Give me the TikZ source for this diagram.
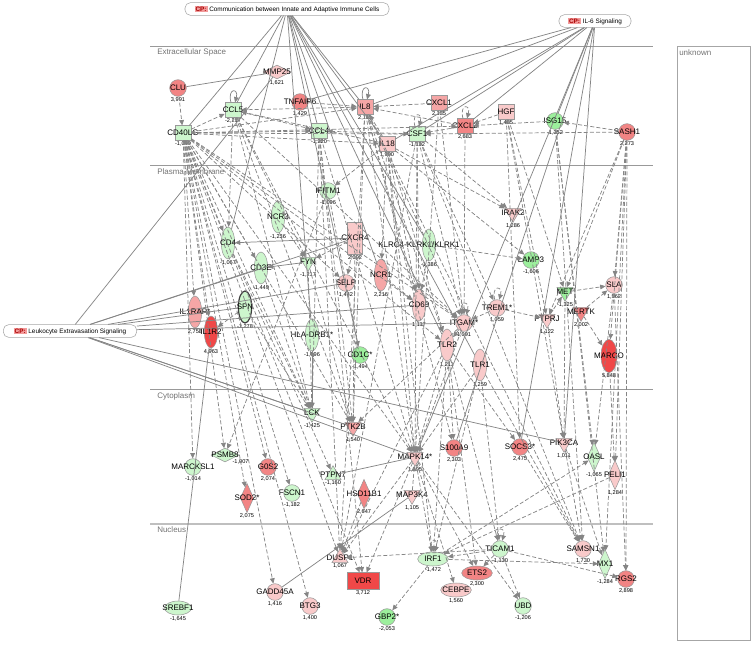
\documentclass[tikz,border=0pt]{standalone}
\usepackage{fontspec}
\setmainfont{Liberation Sans}
\usetikzlibrary{shapes.geometric,arrows.meta}
\definecolor{ipadeep}{HTML}{F04848}
\definecolor{ipared}{HTML}{F28484}
\definecolor{ipasalmon}{HTML}{F5A6A6}
\definecolor{ipapink}{HTML}{F9CACA}
\definecolor{ipagreen}{HTML}{9CEF9C}
\definecolor{ipamint}{HTML}{CDF6CD}
\definecolor{edgegray}{HTML}{858585}
\definecolor{cpbg}{HTML}{F29A9A}
\definecolor{cpred}{HTML}{A80000}
\newcommand\genefont{\fontsize{6}{6}\selectfont}
\newcommand\valfont{\fontsize{4.2}{4.2}\selectfont}
\newcommand\compfont{\fontsize{6}{6}\selectfont}
\newcommand\cpfont{\fontsize{4.8}{4.8}\selectfont}
\newcommand\cptag{{\setlength{\fboxsep}{0.7pt}\colorbox{cpbg}{\textcolor{cpred}{\bfseries CP:}}}}

\begin{document}
\begin{tikzpicture}[x=0.75pt,y=-0.75pt,
  gene/.style={draw=black!40,line width=0.4pt,inner sep=0pt,label distance=0.7pt},
  circ/.style={gene,circle,minimum size=12.5pt},
  sq/.style={gene,rectangle,minimum width=12pt,minimum height=11pt},
  dia/.style={gene,diamond,minimum width=21pt,minimum height=10.5pt},
  tdia/.style={gene,diamond,minimum width=10pt,minimum height=22pt},
  vell/.style={gene,ellipse,minimum width=10pt,minimum height=24pt},
  hell/.style={gene,ellipse,minimum width=23pt,minimum height=10.5pt},
  kin/.style={gene,regular polygon,regular polygon sides=3,shape border rotate=180,minimum size=14pt},
  phos/.style={gene,regular polygon,regular polygon sides=3,minimum size=14pt},
  tbox/.style={gene,rectangle,minimum width=11pt,minimum height=24pt},
  wbox/.style={gene,rectangle,minimum width=24pt,minimum height=12.5pt},
  glab/.style={font=\genefont,inner sep=0pt},
  vlab/.style={font=\valfont,inner sep=0.5pt},
  g/.style={label={[glab]center:#1}},
  v/.style={label={[vlab]below:#1}},
  cp/.style={draw=black!35,fill=white,rounded corners=4pt,font=\cpfont,inner sep=1pt,minimum height=9.5pt},
  comp/.style={draw=black!40,line width=0.6pt},
  complab/.style={font=\compfont,text=black!55,anchor=west,inner sep=0pt},
  cpl/.style={draw=edgegray,line width=0.55pt},
  dir/.style={cpl,-{Triangle[length=4pt,width=3.6pt]}},
  dep/.style={dir,dash pattern=on 3pt off 1.6pt}]
\useasboundingbox (0,0) rectangle (755,647);

% compartments
\draw[comp] (150,46) -- (653,46);
\draw[comp] (150,165) -- (653,165);
\draw[comp] (150,389) -- (653,389);
\draw[comp,draw=black!25,line width=1.2pt] (150,524) -- (653,524);
\node[complab] (ecs) at (157,52) {Extracellular Space};
\node[complab] (pm) at (157,172) {Plasma Membrane};
\node[complab] (cyto) at (157,396) {Cytoplasm};
\node[complab] (nuc) at (157,530) {Nucleus};
\draw[draw=black!35,line width=0.6pt] (677,46) rectangle (750,640);
\node[complab,anchor=north west] (unk) at (679,49) {unknown};

% canonical pathways
\node[cp,minimum width=153pt] (cpComm) at (287,9) {\cptag\ Communication between Innate and Adaptive Immune Cells};
\node[cp,minimum width=54pt] (cpIL6) at (595,21) {\cptag\ IL-6 Signaling};
\node[cp,minimum width=100pt] (cpLeuk) at (70,331) {\cptag\ Leukocyte Extravasation Signaling};

% extracellular space
\node[circ,fill=ipared,g=CLU,v={3,991}] (CLU) at (178,88) {};
\node[dia,fill=ipapink,g=MMP25,v={1,621}] (MMP25) at (277,72) {};
\node[circ,fill=ipared,g=TNFAIP6,v={1,429}] (TNFAIP6) at (300,102) {};
\node[sq,fill=ipasalmon,g=IL8,v={2,115}] (IL8) at (365,107) {};
\node[sq,fill=ipamint,g=CCL5,v={-2,217}] (CCL5) at (233,110) {};
\node[sq,fill=ipamint,g=CCL4,v={-1,220}] (CCL4) at (319,131) {};
\node[sq,fill=ipamint,g=CD40LG,v={-1,049}] (CD40LG) at (183,133) {};
\node[sq,fill=ipapink,g=IL18,v={1,990}] (IL18) at (387,144) {};
\node[sq,fill=ipasalmon,g=CXCL1,v={2,135}] (CXCL1) at (439,103) {};
\node[sq,fill=ipapink,g=HGF,v={1,485}] (HGF) at (506,112) {};
\node[sq,fill=ipamint,g=CSF1,v={-1,132}] (CSF1) at (417,134) {};
\node[sq,fill=ipared,g=CXCL2,v={2,683}] (CXCL2) at (465,126) {};
\node[circ,fill=ipagreen,g=ISG15,v={-1,352}] (ISG15) at (555,121) {};
\node[circ,fill=ipared,g=SASH1,v={2,273}] (SASH1) at (627,132) {};

% plasma membrane
\node[circ,fill=ipamint,g=IFITM1,v={-1,096}] (IFITM1) at (328,191) {};
\node[vell,fill=ipamint,g=NCR3,v={-1,236}] (NCR3) at (278,217) {};
\node[vell,fill=ipamint,g=CD4,v={-1,067}] (CD4) at (228,243) {};
\node[tbox,fill=ipapink,g=CXCR4,v={2,092}] (CXCR4) at (355,238) {};
\node[vell,fill=ipamint,label={[glab,xshift=-7.5pt]center:KLRC4-KLRK1/KLRK1},v={-1,386}] (KLRK1) at (429,245) {};
\node[kin,fill=ipapink,g=IRAK2,v={1,286}] (IRAK2) at (513,213) {};
\node[circ,fill=ipagreen,g=LAMP3,v={-1,606}] (LAMP3) at (531,260) {};
\node[kin,fill=ipamint,g=FYN,v={-1,217}] (FYN) at (308,262) {};
\node[vell,fill=ipamint,g=CD3E,v={-1,449}] (CD3E) at (261,268) {};
\node[vell,fill=ipasalmon,g=NCR1,v={2,216}] (NCR1) at (381,275) {};
\node[circ,fill=ipapink,g=SELP,v={1,442}] (SELP) at (346,283) {};
\node[vell,fill=ipapink,g=CD69,v={1,117}] (CD69) at (419,305) {};
\node[circ,fill=ipapink,g={TREM1*},v={1,059}] (TREM1) at (497,308) {};
\node[kin,fill=ipagreen,g=MET,v={-1,325}] (MET) at (565,292) {};
\node[circ,fill=ipapink,g=SLA,v={1,562}] (SLA) at (614,285) {};
\node[kin,fill=ipared,g=MERTK,v={2,002}] (MERTK) at (581,312) {};
\node[kin,fill=ipapink,g=PTPRJ,v={1,122}] (PTPRJ) at (547,319) {};
\node[circ,fill=ipapink,g={ITGAM*},v={1,091}] (ITGAM) at (464,323) {};
\node[vell,fill=ipapink,g=TLR2,v={1,211}] (TLR2) at (447,345) {};
\node[vell,fill=ipapink,g=TLR1,v={1,259}] (TLR1) at (480,365) {};
\node[vell,fill=ipadeep,minimum width=12pt,minimum height=25pt,g=MARCO,v={5,848}] (MARCO) at (609,356) {};
\node[vell,fill=ipasalmon,g={IL1RAP*},v={2,758}] (IL1RAP) at (195,312) {};
\node[vell,fill=ipadeep,g=IL1R2,v={4,963}] (IL1R2) at (211,332) {};
\node[vell,fill=ipamint,draw=black!75,line width=0.9pt,g=SPN,v={-1,278}] (SPN) at (245,307) {};
\node[vell,fill=ipamint,g={HLA-DRB1*},v={-1,896}] (HLA) at (312,335) {};
\node[circ,fill=ipagreen,g={CD1C*},v={-1,494}] (CD1C) at (360,355) {};

% cytoplasm
\node[kin,fill=ipamint,g=LCK,v={-1,425}] (LCK) at (312,413) {};
\node[kin,fill=ipasalmon,g=PTK2B,v={1,540}] (PTK2B) at (353,427) {};
\node[circ,fill=ipamint,g=MARCKSL1,v={-1,014}] (MARCKSL1) at (193,467) {};
\node[dia,fill=ipamint,g=PSMB8,label={[vlab]-30:-1,007}] (PSMB8) at (225,455) {};
\node[circ,fill=ipared,g=G0S2,v={2,074}] (G0S2) at (268,467) {};
\node[tdia,fill=ipared,g={SOD2*},v={2,075}] (SOD2) at (247,498) {};
\node[circ,fill=ipamint,g=FSCN1,v={-1,182}] (FSCN1) at (292,493) {};
\node[phos,fill=ipamint,g=PTPN7,v={-1,160}] (PTPN7) at (333,475) {};
\node[tdia,fill=ipared,g=HSD11B1,v={2,647}] (HSD11B1) at (364,494) {};
\node[kin,fill=ipapink,g={MAPK14*},v={1,295}] (MAPK14) at (415,457) {};
\node[kin,fill=ipapink,g=MAP3K4,v={1,105}] (MAP3K4) at (412,495) {};
\node[circ,fill=ipared,g=S100A9,v={2,303}] (S100A9) at (454,448) {};
\node[circ,fill=ipared,g={SOCS3*},v={2,475}] (SOCS3) at (520,447) {};
\node[kin,fill=ipapink,g=PIK3CA,v={1,011}] (PIK3CA) at (564,443) {};
\node[tdia,fill=ipamint,g=OASL,v={-1,065}] (OASL) at (594,457) {};
\node[tdia,fill=ipapink,g=PELI1,v={1,284}] (PELI1) at (615,475) {};

% nucleus
\node[phos,fill=ipapink,g=DUSP1,v={1,067}] (DUSP1) at (340,558) {};
\node[wbox,fill=ipadeep,g=VDR,v={3,712}] (VDR) at (363,581) {};
\node[circ,fill=ipapink,g=GADD45A,v={1,416}] (GADD45A) at (275,592) {};
\node[circ,fill=ipapink,g=BTG3,v={1,400}] (BTG3) at (310,606) {};
\node[hell,fill=ipamint,minimum width=20pt,g=SREBF1,v={-1,645}] (SREBF1) at (178,608) {};
\node[circ,fill=ipagreen,g={GBP2*},v={-2,053}] (GBP2) at (387,617) {};
\node[hell,fill=ipamint,g=IRF1,v={-1,472}] (IRF1) at (433,559) {};
\node[circ,fill=ipamint,g=TICAM1,v={-1,130}] (TICAM1) at (500,549) {};
\node[hell,fill=ipared,g=ETS2,v={2,300}] (ETS2) at (477,573) {};
\node[hell,fill=ipapink,g=CEBPE,v={1,560}] (CEBPE) at (456,590) {};
\node[circ,fill=ipamint,g=UBD,v={-1,206}] (UBD) at (523,606) {};
\node[circ,fill=ipapink,g=SAMSN1,v={1,730}] (SAMSN1) at (583,549) {};
\node[tdia,fill=ipamint,g=MX1,v={-1,284}] (MX1) at (605,564) {};
\node[circ,fill=ipared,g=RGS2,v={2,898}] (RGS2) at (626,579) {};

% pathway membership
\foreach \t in {CD40LG,CCL5,CCL4,IL8,IL18,CD4,HLA,KLRK1,NCR1,TLR2,TLR1,CD1C}
  \draw[cpl] (cpComm) -- (\t);
\foreach \t in {TNFAIP6,IL8,IL18,CSF1,CXCL2,ISG15,MAPK14,S100A9,SOCS3,PIK3CA}
  \draw[cpl] (cpIL6) -- (\t);
\foreach \t in {MMP25,CD3E,SPN,CXCR4,SELP,ITGAM,CD69,LCK,PTK2B,MAPK14,PIK3CA}
  \draw[cpl] (cpLeuk) -- (\t);

% direct interactions
\draw[cpl] (CLU) -- (MMP25);
\draw[cpl] (HLA) -- (LCK);
\draw[cpl] (SREBF1) -- (IL1R2);
\draw[cpl] (GADD45A) -- (MAP3K4);
\draw[cpl] (PTPN7) -- (MAPK14);
\draw[dir] (CXCR4) -- (CD4);
\draw[dir] (FYN) -- (CD3E);
\draw[dir] (CCL5) to[loop above,min distance=4mm] (CCL5);
\draw[dir] (IL8) to[loop above,min distance=4mm] (IL8);
\foreach \n in {CSF1,CXCL2,ITGAM,TREM1,TICAM1,IRF1}
  \draw[dep] (\n) to[loop above,min distance=4mm] (\n);

% indirect interactions
\foreach \a/\b in {CLU/CD40LG,CD40LG/CCL5,CD40LG/CCL4,CD40LG/IL8,CD40LG/IL18,CD40LG/CSF1,
    CD40LG/CXCL2,CD40LG/IL1RAP,CD40LG/IL1R2,CD40LG/MARCKSL1,CD40LG/PSMB8,CD40LG/SOD2,
    CD40LG/G0S2,CD40LG/FSCN1,CD40LG/GADD45A,CD40LG/BTG3,CD40LG/DUSP1,CD40LG/VDR,
    CD40LG/CD69,CD40LG/TLR2,CD40LG/ITGAM,CD40LG/SELP,CD40LG/LCK,CD40LG/PTK2B,
    CD40LG/MAPK14,CD40LG/CD4,CD40LG/CD3E,
    IL8/CCL5,CCL5/CCL4,CCL5/FYN,CCL5/LCK,CCL5/PTK2B,CCL5/MAPK14,CCL5/ITGAM,CCL5/CD4,
    IL8/ITGAM,IL8/MAPK14,IL8/PTK2B,IL8/CD69,IL8/S100A9,IL8/TLR2,IL8/SAMSN1,IL8/DUSP1,
    CCL4/LCK,CCL4/MAPK14,CCL4/PTK2B,CCL4/DUSP1,CCL4/VDR,
    CXCL1/IL8,CXCL1/MAPK14,CXCL1/ITGAM,TNFAIP6/IL8,
    CSF1/CCL4,CSF1/ITGAM,CSF1/CD69,CSF1/TREM1,CSF1/MAPK14,CSF1/SAMSN1,CSF1/IRAK2,CSF1/DUSP1,
    IL18/CCL5,IL18/IL8,IL18/NCR1,IL18/CD69,IL18/IFITM1,IL18/MAPK14,IL18/TLR2,IL18/IRF1,
    IL18/LAMP3,IL18/IRAK2,CXCL2/IL8,CXCL2/CSF1,CXCL2/ITGAM,
    HGF/CXCL2,HGF/MET,HGF/PIK3CA,HGF/SOCS3,HGF/PTPRJ,
    ISG15/CXCL2,ISG15/OASL,ISG15/MX1,ISG15/SAMSN1,
    SASH1/ISG15,SASH1/CSF1,SASH1/SLA,SASH1/MARCO,SASH1/PELI1,SASH1/RGS2,
    SASH1/MET,SASH1/PTPRJ,SASH1/MX1,
    CXCR4/FYN,CXCR4/PTK2B,CXCR4/SELP,CXCR4/ITGAM,NCR3/FYN,IFITM1/CD1C,IFITM1/PSMB8,
    CD4/LCK,CD4/PTPN7,CD3E/LCK,FYN/LCK,FYN/PTK2B,SPN/LCK,SPN/IL1R2,
    KLRK1/CD69,KLRK1/LAMP3,NCR1/CD69,
    TREM1/ITGAM,TREM1/PTPRJ,ITGAM/TLR2,ITGAM/PTK2B,ITGAM/MAPK14,
    TLR2/MAPK14,TLR2/TICAM1,TLR2/IRF1,TLR2/SOCS3,TLR2/DUSP1,TLR2/ETS2,TLR2/S100A9,
    TLR1/TICAM1,TLR1/MAPK14,TLR1/SAMSN1,TLR1/IRF1,
    MET/SLA,MET/PIK3CA,MERTK/SLA,MERTK/MARCO,PTPRJ/MET,PTPRJ/PIK3CA,SLA/OASL,SLA/RGS2,
    MARCO/PELI1,MAP3K4/MAPK14,MAPK14/DUSP1,MAPK14/ETS2,MAPK14/IRF1,MAPK14/CEBPE,
    MAPK14/UBD,MAPK14/VDR,HSD11B1/DUSP1,SOCS3/SAMSN1,PIK3CA/SAMSN1,PIK3CA/MX1,
    IRF1/OASL,IRF1/MX1,IRF1/GBP2,TICAM1/IRF1,TICAM1/ETS2,TICAM1/UBD,TICAM1/DUSP1,
    TICAM1/RGS2,PELI1/IRF1}
  \draw[dep] (\a) -- (\b);
\end{tikzpicture}
\end{document}
